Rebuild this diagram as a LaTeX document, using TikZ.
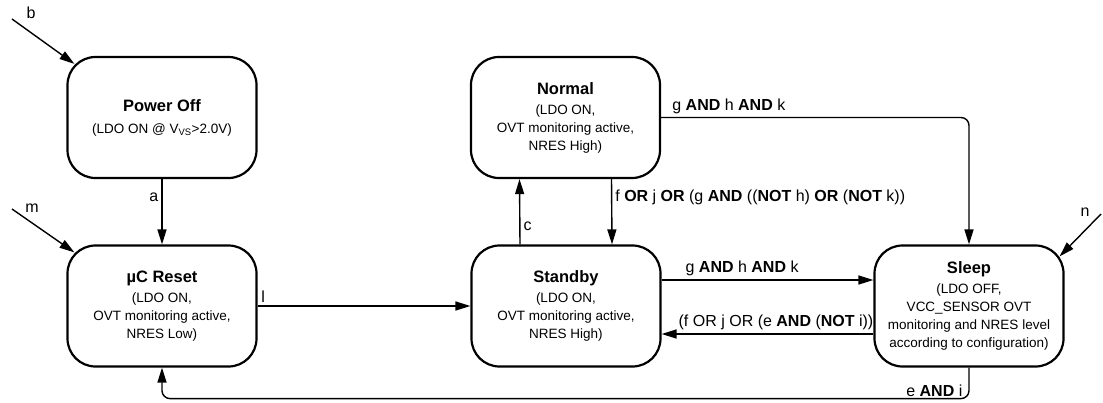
\documentclass[tikz,border=0pt]{standalone}
\usepackage{fontspec}
\setmainfont{Liberation Sans}
\usetikzlibrary{arrows.meta}

\newcommand{\stitle}[1]{{\fontsize{16.5}{20}\selectfont\bfseries #1}}

\begin{document}
\begin{tikzpicture}
[x=1pt,y=-1pt,%
  state/.style={shape=rectangle,rounded corners=28pt,draw,line width=2.2pt,%
    minimum width=189pt,minimum height=121pt,align=center,inner sep=2pt,%
    font=\fontsize{13.5}{18}\selectfont},%
  trans/.style={draw,line width=1.4pt,-{Triangle[length=15pt,width=9pt]}},%
  lbl/.style={font=\fontsize{16}{18}\selectfont,inner sep=3pt}]
\useasboundingbox (0,0) rectangle (1103,402);
%%
\node[state] (off) at (162,117.5)
  {\stitle{Power Off}\\[4pt](LDO ON @ V\textsubscript{VS}>2.0V)};
\node[state] (reset) at (162,306)
  {\stitle{µC Reset}\\[2pt](LDO ON,\\OVT monitoring active,\\NRES Low)};
\node[state] (normal) at (565.5,117.5)
  {\stitle{Normal}\\[2pt](LDO ON,\\OVT monitoring active,\\NRES High)};
\node[state] (standby) at (566,306)
  {\stitle{Standby}\\[2pt](LDO ON,\\OVT monitoring active,\\NRES High)};
\node[state] (sleep) at (969,306)
  {\stitle{Sleep}\\[2pt](LDO OFF,\\VCC\_SENSOR OVT\\monitoring and NRES level\\according to configuration)};
%%
\coordinate (bIn) at (12,19);
\coordinate (mIn) at (12,209);
\coordinate (nIn) at (1101,214);
\node[lbl] (bLbl) at (31,13) {b};
\node[lbl] (mLbl) at (32,208) {m};
\node[lbl] (nLbl) at (1085,212) {n};
%%
\draw[trans] (bIn) -- ([shift={(8,8)}]off.north west);
\draw[trans] (mIn) -- ([shift={(8,8)}]reset.north west);
\draw[trans] (nIn) -- ([shift={(-5,12)}]sleep.north east);
\draw[trans] (off) -- (reset) node[lbl,left,pos=0.28] (aLbl) {a};
\draw[trans] (reset) -- (standby) node[lbl,above right,pos=0] (lLbl) {l};
\draw[trans] ([xshift=-46pt]standby.north) -- ([xshift=-46pt]normal.south)
  node[lbl,right,pos=0.27] (cLbl) {c};
\draw[trans] ([xshift=46pt]normal.south) -- ([xshift=46pt]standby.north)
  node[lbl,right,pos=0.28] (fLbl)
  {f \textbf{OR} j \textbf{OR} (g \textbf{AND} ((\textbf{NOT} h) \textbf{OR} (\textbf{NOT} k))};
\draw[trans,rounded corners=8pt] (normal.east)
  -- node[lbl,above,pos=0.22] (ghkTop) {g \textbf{AND} h \textbf{AND} k}
  (normal.east -| sleep.north) -- (sleep.north);
\draw[trans] ([yshift=26pt]standby.east) -- ([yshift=26pt]sleep.west)
  node[lbl,above,pos=0.38] (ghkMid) {g \textbf{AND} h \textbf{AND} k};
\draw[trans] ([yshift=-28pt]sleep.west) -- ([yshift=-28pt]standby.east)
  node[lbl,above,pos=0.46] (fjeLbl) {(f OR j OR (e \textbf{AND} (\textbf{NOT} i))};
\draw[trans,rounded corners=8pt] (sleep.south) -- ++(0,31)
  node[lbl,above left,inner sep=1pt,xshift=-5pt] (eiLbl) {e \textbf{AND} i}
  -| (reset.south);
\end{tikzpicture}
\end{document}
